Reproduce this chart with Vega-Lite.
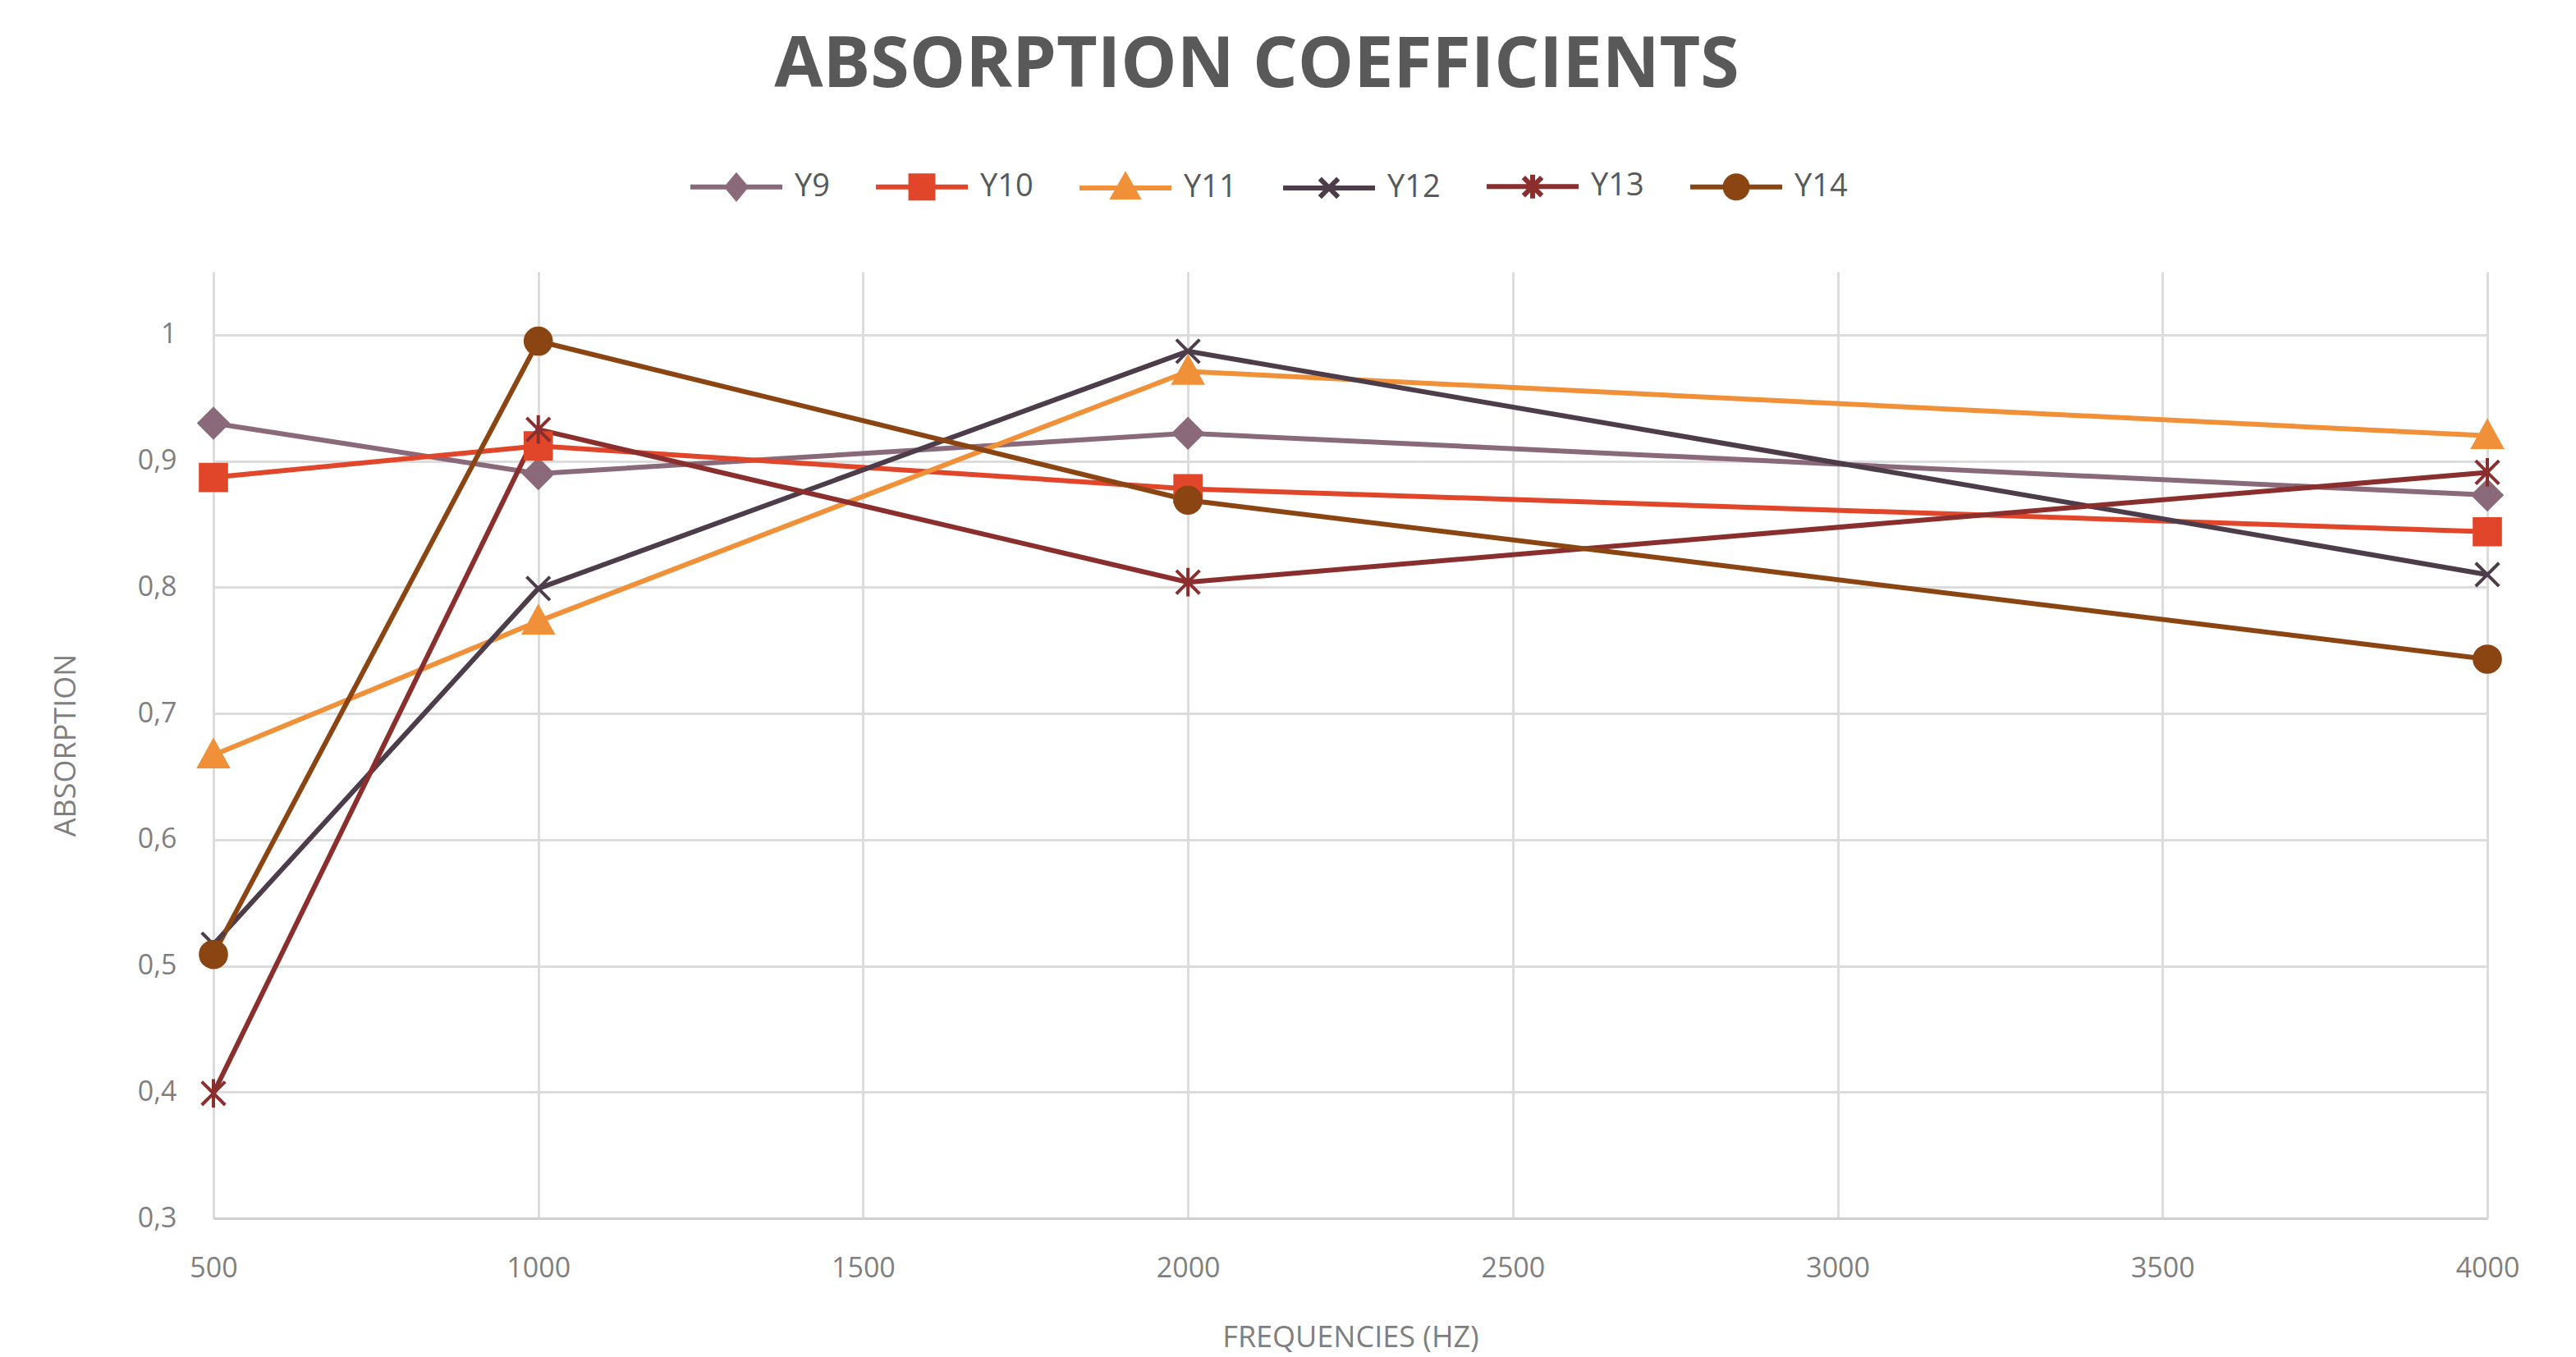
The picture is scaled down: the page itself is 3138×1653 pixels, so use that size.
{
  "$schema": "https://vega.github.io/schema/vega-lite/v6.json",
  "autosize": {"type": "none"},
  "padding": {"left": 260, "top": 331, "right": 108, "bottom": 169},
  "width": 2770,
  "height": 1153,
  "background": "white",
  "title": {"text": "ABSORPTION COEFFICIENTS", "font": "Open Sans", "fontSize": 86, "fontWeight": "bold", "color": "#595959", "anchor": "middle", "dx": -114, "offset": 44},
  "config": {"view": {"stroke": null}},
  "data": {"values": [
    {"freq": 500, "series": "Y9", "value": 0.93},
    {"freq": 1000, "series": "Y9", "value": 0.89},
    {"freq": 2000, "series": "Y9", "value": 0.922},
    {"freq": 4000, "series": "Y9", "value": 0.873},
    {"freq": 500, "series": "Y10", "value": 0.887},
    {"freq": 1000, "series": "Y10", "value": 0.912},
    {"freq": 2000, "series": "Y10", "value": 0.878},
    {"freq": 4000, "series": "Y10", "value": 0.844},
    {"freq": 500, "series": "Y11", "value": 0.667},
    {"freq": 1000, "series": "Y11", "value": 0.773},
    {"freq": 2000, "series": "Y11", "value": 0.971},
    {"freq": 4000, "series": "Y11", "value": 0.92},
    {"freq": 500, "series": "Y12", "value": 0.517},
    {"freq": 1000, "series": "Y12", "value": 0.799},
    {"freq": 2000, "series": "Y12", "value": 0.987},
    {"freq": 4000, "series": "Y12", "value": 0.81},
    {"freq": 500, "series": "Y13", "value": 0.399},
    {"freq": 1000, "series": "Y13", "value": 0.925},
    {"freq": 2000, "series": "Y13", "value": 0.804},
    {"freq": 4000, "series": "Y13", "value": 0.891},
    {"freq": 500, "series": "Y14", "value": 0.509},
    {"freq": 1000, "series": "Y14", "value": 0.995},
    {"freq": 2000, "series": "Y14", "value": 0.869},
    {"freq": 4000, "series": "Y14", "value": 0.743}
  ]},
  "encoding": {
    "x": {"field": "freq", "type": "quantitative",
      "scale": {"domain": [500, 4000], "nice": false, "zero": false},
      "axis": {"title": "FREQUENCIES (HZ)", "values": [500, 1000, 1500, 2000, 2500, 3000, 3500, 4000], "format": "d",
        "labelFont": "Open Sans", "labelFontSize": 34, "labelColor": "#7f7f7f", "labelPadding": 44, "labelFlush": false, "labelOverlap": false,
        "ticks": false, "domainColor": "#d0d0d0", "domainWidth": 3,
        "gridColor": "#dcdcdc", "gridWidth": 3,
        "titleFont": "Open Sans", "titleFontSize": 36, "titleFontWeight": "normal", "titleColor": "#7f7f7f", "titlePadding": 50}},
    "y": {"field": "value", "type": "quantitative",
      "scale": {"domain": [0.3, 1.05], "nice": false, "zero": false},
      "axis": {"title": "ABSORPTION", "values": [0.3, 0.4, 0.5, 0.6, 0.7, 0.8, 0.9, 1.0],
        "labelExpr": "replace(format(datum.value, '~g'), '.', ',')",
        "labelFont": "Open Sans", "labelFontSize": 34, "labelColor": "#7f7f7f", "labelPadding": 45,
        "ticks": false, "domain": false,
        "gridColor": "#dcdcdc", "gridWidth": 3,
        "titleFont": "Open Sans", "titleFontSize": 36, "titleFontWeight": "normal", "titleColor": "#7f7f7f", "titlePadding": 68}}
  },
  "layer": [
    {
      "mark": {"type": "line", "strokeWidth": 6},
      "encoding": {
        "stroke": {"field": "series", "type": "nominal", "legend": null,
          "scale": {"domain": ["Y9", "Y10", "Y11", "Y12", "Y13", "Y14"], "range": ["#8a6a7a", "#e2462a", "#f0913a", "#4d3d4b", "#8b2e2e", "#8b4513"]}},
        "order": {"field": "freq", "type": "quantitative"}
      }
    },
    {
      "mark": {"type": "point", "strokeWidth": 4, "opacity": 1, "size": 1000},
      "encoding": {
        "fill": {"field": "series", "type": "nominal", "legend": null,
          "scale": {"domain": ["Y9", "Y10", "Y11", "Y12", "Y13", "Y14"], "range": ["#8a6a7a", "#e2462a", "#f0913a", "#4d3d4b", "#8b2e2e", "#8b4513"]}},
        "stroke": {"field": "series", "type": "nominal", "legend": null,
          "scale": {"domain": ["Y9", "Y10", "Y11", "Y12", "Y13", "Y14"], "range": ["#8a6a7a", "#e2462a", "#f0913a", "#4d3d4b", "#8b2e2e", "#8b4513"]}},
        "shape": {"field": "series", "type": "nominal", "legend": null,
          "scale": {"domain": ["Y9", "Y10", "Y11", "Y12", "Y13", "Y14"], "range": [
            "M0,-1.1L1.1,0L0,1.1L-1.1,0Z",
            "M-1,-1L1,-1L1,1L-1,1Z",
            "M0,-1.1L1.1,0.9L-1.1,0.9Z",
            "M-0.9,-0.9L0.9,0.9M-0.9,0.9L0.9,-0.9",
            "M-0.9,-0.9L0.9,0.9M-0.9,0.9L0.9,-0.9M0,-1.1L0,1.1",
            "M1,0A1,1,0,1,1,-1,0A1,1,0,1,1,1,0Z"]}}
      }
    },
    {
      "transform": [{"filter": "false"}],
      "mark": {"type": "point", "strokeWidth": 6, "opacity": 1},
      "encoding": {
        "fill": {"field": "series", "type": "nominal",
          "scale": {"domain": ["Y9", "Y10", "Y11", "Y12", "Y13", "Y14"], "range": ["#8a6a7a", "#e2462a", "#f0913a", "#4d3d4b", "#8b2e2e", "#8b4513"]},
          "legend": {"title": null, "orient": "none", "legendX": 578, "legendY": -163, "direction": "horizontal", "symbolSize": 12544, "symbolStrokeWidth": 6, "labelFont": "Open Sans", "labelFontSize": 38, "labelColor": "#595959", "labelOffset": 12, "columnPadding": 44}},
        "stroke": {"field": "series", "type": "nominal",
          "scale": {"domain": ["Y9", "Y10", "Y11", "Y12", "Y13", "Y14"], "range": ["#8a6a7a", "#e2462a", "#f0913a", "#4d3d4b", "#8b2e2e", "#8b4513"]},
          "legend": {"title": null, "orient": "none", "legendX": 578, "legendY": -163, "direction": "horizontal", "symbolSize": 12544, "symbolStrokeWidth": 6, "labelFont": "Open Sans", "labelFontSize": 38, "labelColor": "#595959", "labelOffset": 12, "columnPadding": 44}},
        "shape": {"field": "series", "type": "nominal",
          "scale": {"domain": ["Y9", "Y10", "Y11", "Y12", "Y13", "Y14"], "range": [
            "M-1,0L1,0M0,-0.24L0.2,0L0,0.24L-0.2,0Z",
            "M-1,0L1,0M-0.24,-0.24L0.24,-0.24L0.24,0.24L-0.24,0.24Z",
            "M-1,0L1,0M0,-0.26L0.26,0.2L-0.26,0.2Z",
            "M-1,0L1,0M-0.2,-0.2L0.2,0.2M-0.2,0.2L0.2,-0.2",
            "M-1,0L1,0M-0.2,-0.2L0.2,0.2M-0.2,0.2L0.2,-0.2M0,-0.26L0,0.26",
            "M-1,0L1,0M0.24,0A0.24,0.24,0,1,1,-0.24,0A0.24,0.24,0,1,1,0.24,0Z"]},
          "legend": {"title": null, "orient": "none", "legendX": 578, "legendY": -163, "direction": "horizontal", "symbolSize": 12544, "symbolStrokeWidth": 6, "labelFont": "Open Sans", "labelFontSize": 38, "labelColor": "#595959", "labelOffset": 12, "columnPadding": 44}}
      }
    }
  ],
  "resolve": {"scale": {"shape": "independent", "fill": "independent", "stroke": "independent"}}
}
